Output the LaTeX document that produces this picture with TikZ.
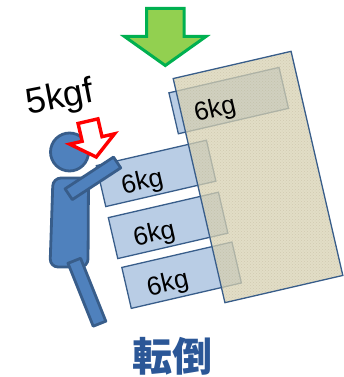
\documentclass[tikz,border=0pt]{standalone}
\usepackage{fontspec}
\setmainfont{Liberation Sans}
\newfontfamily\jpfont{Noto Sans CJK JP}
\usetikzlibrary{patterns}
\definecolor{boxblue}{HTML}{B9CDE5}
\definecolor{edgeblue}{HTML}{385D8A}
\definecolor{manblue}{HTML}{4F81BD}
\definecolor{shelfbeige}{HTML}{D8D2B3}
\definecolor{shelfdots}{HTML}{A8A080}
\definecolor{pushgreen}{HTML}{92D050}
\definecolor{pushedge}{HTML}{00B050}
\definecolor{titleblue}{HTML}{2B5797}

\begin{document}
\begin{tikzpicture}[x=1pt, y=-1pt,
        weight/.style={draw=edgeblue, line width=1.3pt, fill=boxblue},
        weightlabel/.style={rotate=13, anchor=base west, inner sep=0pt, font=\fontsize{26}{26}\selectfont},
        man/.style={draw=edgeblue, fill=manblue, line width=2.8pt, line join=round},
        pushdown/.style={draw=pushedge, fill=pushgreen, line width=3pt},
        pressdown/.style={draw=red, fill=white, line width=3.4pt},
    ]
        \useasboundingbox (0,0) rectangle (344,377);

        \begin{scope}[shift={(228.7,100.6)}, rotate=13]
            \draw[weight] (-56.5,-21) rectangle (56.5,21);
            \coordinate (w1) at (-36.5,13);
        \end{scope}
        \begin{scope}[shift={(156.1,173.4)}, rotate=13]
            \draw[weight] (-56.5,-21) rectangle (56.5,21);
            \coordinate (w2) at (-36.5,13);
        \end{scope}
        \begin{scope}[shift={(168.1,225.4)}, rotate=13]
            \draw[weight] (-56.5,-21) rectangle (56.5,21);
            \coordinate (w3) at (-36.5,13);
        \end{scope}
        \begin{scope}[shift={(181.6,275.2)}, rotate=13]
            \draw[weight] (-56.5,-21) rectangle (56.5,21);
            \coordinate (w4) at (-36.5,13);
        \end{scope}

        \begin{scope}[shift={(258,177)}, rotate=13]
            \fill[shelfbeige, fill opacity=0.75] (-60.5,-115) rectangle (60.5,115);
            \fill[pattern=crosshatch dots, pattern color=shelfdots, fill opacity=0.3] (-60.5,-115) rectangle (60.5,115);
            \draw[edgeblue, line width=1.3pt] (-60.5,-115) rectangle (60.5,115);
        \end{scope}

        \node[weightlabel] (lbl1) at (w1) {6kg};
        \node[weightlabel] (lbl2) at (w2) {6kg};
        \node[weightlabel] (lbl3) at (w3) {6kg};
        \node[weightlabel] (lbl4) at (w4) {6kg};

        \draw[pushdown] (146.5,8.5) -- (184,8.5) -- (184,36.5) -- (206,36.5) -- (165.3,65.5)
            -- (124.5,36.5) -- (146.5,36.5) -- cycle;

        \draw[man, rounded corners=8pt] (70,178) -- (88.5,178) -- (88,267) -- (50,267) -- (53,178) -- cycle;
        \draw[man] (68,263.3) -- (80.6,258.3) -- (105.8,321.2) -- (93.2,326.2) -- cycle;
        \draw[man] (69.5,152) circle[radius=19];
        \draw[man] (65.1,188.8) -- (72.3,199.6) -- (120.7,167.9) -- (113.5,157.1) -- cycle;

        \begin{scope}[shift={(87.6,119.5)}, rotate=13]
            \draw[pressdown] (-10.2,1.7) -- (10.2,1.7) -- (10.2,20) -- (23,20) -- (0,38.5)
                -- (-23,20) -- (-10.2,20) -- cycle;
        \end{scope}

        \node[rotate=11, anchor=base, font=\fontsize{36}{36}\selectfont] (force) at (62,108) {5kgf};
        \node[font=\jpfont\bfseries\fontsize{40}{40}\selectfont, text=titleblue] (title) at (172.5,356.5) {転倒};
    \end{tikzpicture}
\end{document}
